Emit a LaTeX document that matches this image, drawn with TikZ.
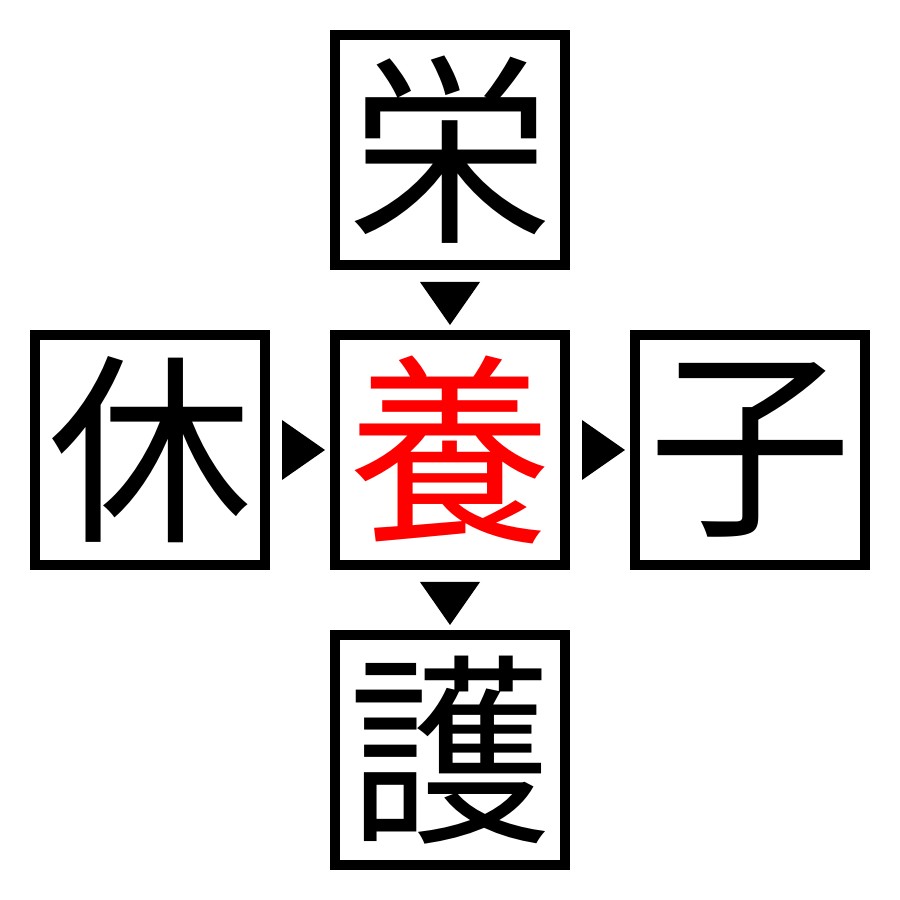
\documentclass[tikz,border=0pt]{standalone}
\usepackage{fontspec}
\newfontfamily\cjk{Noto Sans CJK JP}
\usetikzlibrary{positioning}

\tikzset{
  kanjibox/.style={draw,line width=1mm,minimum size=2.3cm,inner sep=0pt,
    font=\cjk\fontsize{58}{58}\selectfont},
  pointer/.style={fill=black}
}

\begin{document}
\begin{tikzpicture}[node distance=0.6cm]
\useasboundingbox (0,0) rectangle (9,9);

\node [kanjibox,text=red] (c) at (4.5,4.5) {養};
\node [kanjibox,above=of c] (t) {栄};
\node [kanjibox,below=of c] (b) {護};
\node [kanjibox,left=of c] (l) {休};
\node [kanjibox,right=of c] (r) {子};

% downward pointers (tip on the north side of the lower box)
\foreach \n in {c,b}
  \fill [pointer] ([yshift=0.5mm]\n.north) -- ([xshift=-3mm,yshift=4.8mm]\n.north)
    -- ([xshift=3mm,yshift=4.8mm]\n.north) -- cycle;

% rightward pointers (tip on the west side of the right box)
\foreach \n in {c,r}
  \fill [pointer] ([xshift=-0.5mm]\n.west) -- ([xshift=-4.8mm,yshift=3mm]\n.west)
    -- ([xshift=-4.8mm,yshift=-3mm]\n.west) -- cycle;
\end{tikzpicture}
\end{document}
